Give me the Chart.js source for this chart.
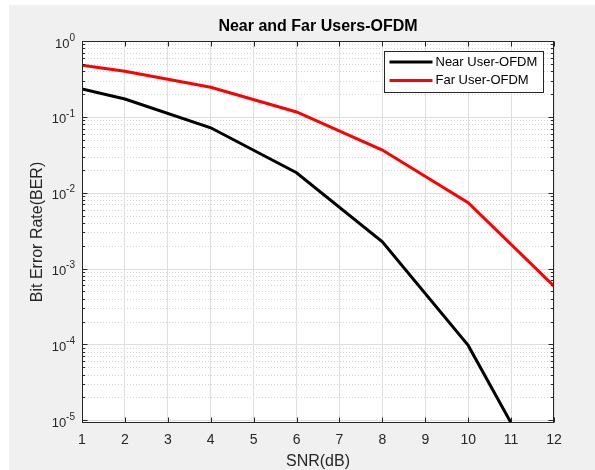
<!DOCTYPE html>
<html>
<head>
<meta charset="utf-8">
<script src="https://cdn.jsdelivr.net/npm/chart.js@4.4.0/dist/chart.umd.min.js"></script>
<style>
    html, body { margin: 0; padding: 0; background: #ffffff; }
    #contenedor { width: 595px; height: 470px; position: relative; }
</style>
</head>
<body>
<div id="contenedor"><canvas id="grafico"></canvas></div>
<script>
// Datos
const snrNear = [1, 2, 4, 6, 8, 10, 11];
const berNear = [0.233, 0.172, 0.0718, 0.0183, 0.00225, 0.000097, 0.0000092];
const snrFar = [1, 2, 4, 6, 8, 10, 12];
const berFar = [0.48, 0.40, 0.245, 0.116, 0.0365, 0.00736, 0.000586];
const etiquetas = ['Near User-OFDM', 'Far User-OFDM'];
const colores = ['#000000', '#ff0000'];
const xTicks = [1, 2, 3, 4, 5, 6, 7, 8, 9, 10, 11, 12];
const yExponentes = [-5, -4, -3, -2, -1, 0];
const yMin = 0.0000092;
const yMax = 1;

const fuente = '"Liberation Sans", Arial, sans-serif';

function puntos(xs, ys) {
    return xs.map((x, i) => ({ x: x, y: ys[i] }));
}

// Plugin que dibuja el fondo, la grilla logarítmica, el marco y los textos estilo MATLAB
const estiloMatlab = {
    id: 'estiloMatlab',
    beforeDraw(chart) {
        const c = chart.ctx;
        const a = chart.chartArea;
        const y = chart.scales.y;
        c.save();
        c.fillStyle = '#ffffff';
        c.fillRect(0, 0, chart.width, chart.height);
        c.fillStyle = '#f0f0f0';
        c.fillRect(9, 5, chart.width - 9, chart.height - 5);
        c.fillStyle = '#ffffff';
        c.fillRect(a.left, a.top, a.right - a.left, a.bottom - a.top);

        // grilla horizontal (mayor sólida, menor punteada)
        c.lineWidth = 1;
        for (let e = -6; e <= 0; e++) {
            for (let s = 1; s <= 9; s++) {
                const v = s * Math.pow(10, e);
                if (v < yMin || v > yMax) continue;
                const py = Math.round(y.getPixelForValue(v)) + 0.5;
                if (s === 1) {
                    c.setLineDash([]);
                    c.strokeStyle = '#dfdfdf';
                } else {
                    c.setLineDash([1, 2]);
                    c.strokeStyle = '#d4d4d4';
                }
                c.beginPath();
                c.moveTo(a.left, py);
                c.lineTo(a.right, py);
                c.stroke();
            }
        }
        c.restore();
    },
    afterDraw(chart) {
        const c = chart.ctx;
        const a = chart.chartArea;
        const x = chart.scales.x;
        const y = chart.scales.y;
        c.save();
        c.strokeStyle = '#262626';
        c.lineWidth = 1;
        c.setLineDash([]);

        // marco
        const l = Math.round(a.left) + 0.5, r = Math.round(a.right) - 0.5;
        const t = Math.round(a.top) + 0.5, b = Math.round(a.bottom) - 0.5;
        c.strokeRect(l, t, r - l, b - t);

        // marcas de x (hacia adentro, abajo y arriba)
        c.beginPath();
        xTicks.forEach(v => {
            const px = Math.round(x.getPixelForValue(v)) + 0.5;
            c.moveTo(px, b); c.lineTo(px, b - 5);
            c.moveTo(px, t); c.lineTo(px, t + 5);
        });
        // marcas de y (mayores y menores)
        for (let e = -6; e <= 0; e++) {
            for (let s = 1; s <= 9; s++) {
                const v = s * Math.pow(10, e);
                if (v < yMin || v > yMax) continue;
                const py = Math.round(y.getPixelForValue(v)) + 0.5;
                const largo = s === 1 ? 5 : 2.5;
                c.moveTo(l, py); c.lineTo(l + largo, py);
                c.moveTo(r, py); c.lineTo(r - largo, py);
            }
        }
        c.stroke();

        // etiquetas de y con exponente
        c.fillStyle = '#262626';
        c.textBaseline = 'middle';
        c.textAlign = 'left';
        const derecha = a.left - 7;
        yExponentes.forEach(e => {
            const py = y.getPixelForValue(Math.pow(10, e));
            const exp = String(e);
            c.font = '10px ' + fuente;
            const wExp = c.measureText(exp).width;
            c.font = '13px ' + fuente;
            const wBase = c.measureText('10').width;
            c.fillText('10', derecha - wExp - wBase, py + 3);
            c.font = '10px ' + fuente;
            c.fillText(exp, derecha - wExp, py - 3);
        });

        // título y nombres de ejes
        const centro = (a.left + a.right) / 2;
        c.textAlign = 'center';
        c.fillStyle = '#000000';
        c.font = 'bold 16px ' + fuente;
        c.fillText('Near and Far Users-OFDM', centro, 27);
        c.fillStyle = '#262626';
        c.font = '16px ' + fuente;
        c.fillText('SNR(dB)', centro, 462);
        c.save();
        c.translate(38, (a.top + a.bottom) / 2);
        c.rotate(-Math.PI / 2);
        c.fillText('Bit Error Rate(BER)', 0, 0);
        c.restore();

        // leyenda
        const lx = 384.5, ly = 51.5, lw = 159, lh = 41;
        c.fillStyle = '#ffffff';
        c.fillRect(lx, ly, lw, lh);
        c.strokeStyle = '#262626';
        c.strokeRect(lx, ly, lw, lh);
        c.textAlign = 'left';
        c.font = '13px ' + fuente;
        chart.data.datasets.forEach((ds, i) => {
            const yy = ly + 10.5 + i * 18.5;
            c.strokeStyle = ds.borderColor;
            c.lineWidth = 3;
            c.beginPath();
            c.moveTo(lx + 5, yy);
            c.lineTo(lx + 48, yy);
            c.stroke();
            c.fillStyle = '#000000';
            c.fillText(ds.label, lx + 51, yy);
        });
        c.restore();
    }
};

const datos = {
    datasets: [
        {
            label: etiquetas[0],
            data: puntos(snrNear, berNear),
            borderColor: colores[0],
            backgroundColor: colores[0],
            borderWidth: 3,
            pointRadius: 0,
            tension: 0
        },
        {
            label: etiquetas[1],
            data: puntos(snrFar, berFar),
            borderColor: colores[1],
            backgroundColor: colores[1],
            borderWidth: 3,
            pointRadius: 0,
            tension: 0
        }
    ]
};

const ctx = document.getElementById('grafico').getContext('2d');

const miGrafico = new Chart(ctx, {
    type: 'line',
    data: datos,
    options: {
        responsive: true,
        maintainAspectRatio: false,
        animation: false,
        layout: {
            padding: { left: 0, top: 41, right: 41, bottom: 0 }
        },
        scales: {
            x: {
                type: 'linear',
                min: 1,
                max: 12,
                afterBuildTicks: (scale) => {
                    scale.ticks = xTicks.map(v => ({ value: v }));
                },
                afterFit: (scale) => { scale.height = 47; },
                ticks: {
                    color: '#262626',
                    font: { family: fuente, size: 14 },
                    padding: 9,
                    maxRotation: 0,
                    autoSkip: false
                },
                grid: {
                    color: '#dfdfdf',
                    lineWidth: 1,
                    drawTicks: false
                },
                border: { display: false }
            },
            y: {
                type: 'logarithmic',
                min: yMin,
                max: yMax,
                afterFit: (scale) => { scale.width = 82; },
                ticks: { display: false },
                grid: { display: false },
                border: { display: false }
            }
        },
        plugins: {
            legend: { display: false },
            title: { display: false },
            tooltip: { enabled: false }
        }
    },
    plugins: [estiloMatlab]
});
</script>
</body>
</html>
